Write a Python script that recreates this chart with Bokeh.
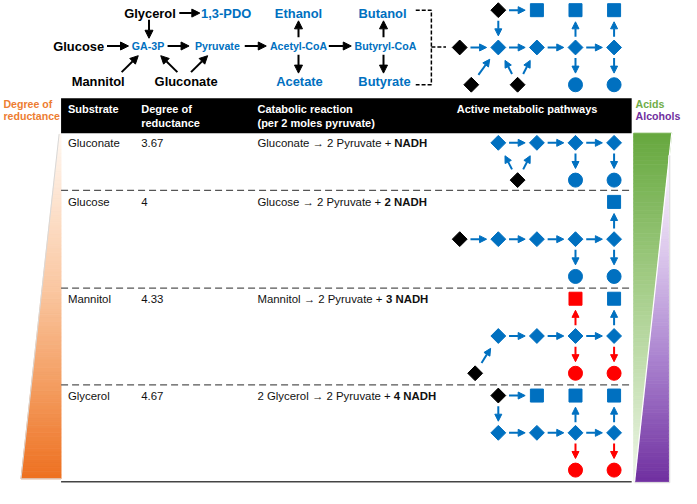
import numpy as np
from bokeh.plotting import figure
from bokeh.models import Range1d, ColumnDataSource, Arrow, NormalHead
from bokeh.core.properties import value
from bokeh.embed import file_html
from bokeh.resources import INLINE

# ------------------------------------------------------------------ data
substrates = ["Gluconate", "Glucose", "Mannitol", "Glycerol"]
reductance = ["3.67", "4", "4.33", "4.67"]
reaction_plain = ["Gluconate \u2192 2 Pyruvate + ", "Glucose \u2192 2 Pyruvate + ",
                  "Mannitol \u2192 2 Pyruvate + ", "2 Glycerol \u2192 2 Pyruvate + "]
reaction_nadh = ["NADH", "2 NADH", "3 NADH", "4 NADH"]
header_line1 = ["Substrate", "Degree of", "Catabolic reaction", "Active metabolic pathways"]
header_line2 = ["", "reductance", "(per 2 moles pyruvate)", ""]

overview_labels = ["Glycerol", "1,3-PDO", "Ethanol", "Butanol", "Glucose", "GA-3P", "Pyruvate",
                   "Acetyl-CoA", "Butyryl-CoA", "Mannitol", "Gluconate", "Acetate", "Butyrate"]
overview_kind = ["sub", "prod", "prod", "prod", "sub", "mid", "mid",
                 "mid", "mid", "sub", "sub", "prod", "prod"]

# pathway networks: nodes (col, row, shape, colour), edges (from, to, colour)
D, S, C = "diamond", "square", "circle"
k, b, r = "black", "blue", "red"
networks = [
    ("overview", [(1, 0, D, k), (2, 0, S, b), (3, 0, S, b), (4, 0, S, b), (0, 1, D, k), (1, 1, D, b),
                  (2, 1, D, b), (3, 1, D, b), (4, 1, D, b), (0.3, 2, D, k), (1.5, 2, D, k),
                  (3, 2, C, b), (4, 2, C, b)],
     [(0, 1, b), (0, 5, b), (4, 5, b), (5, 6, b), (6, 7, b), (7, 8, b), (9, 5, b), (10, 5, b),
      (10, 6, b), (7, 2, b), (8, 3, b), (7, 11, b), (8, 12, b)]),
    ("Gluconate", [(1, 0, D, b), (2, 0, D, b), (3, 0, D, b), (4, 0, D, b), (1.5, 1, D, k),
                   (3, 1, C, b), (4, 1, C, b)],
     [(0, 1, b), (1, 2, b), (2, 3, b), (4, 0, b), (4, 1, b), (2, 5, b), (3, 6, b)]),
    ("Glucose", [(4, 0, S, b), (0, 1, D, k), (1, 1, D, b), (2, 1, D, b), (3, 1, D, b), (4, 1, D, b),
                 (3, 2, C, b), (4, 2, C, b)],
     [(1, 2, b), (2, 3, b), (3, 4, b), (4, 5, b), (5, 0, b), (4, 6, b), (5, 7, b)]),
    ("Mannitol", [(3, 0, S, r), (4, 0, S, b), (1, 1, D, b), (2, 1, D, b), (3, 1, D, b), (4, 1, D, b),
                  (0.4, 2, D, k), (3, 2, C, r), (4, 2, C, r)],
     [(6, 2, b), (2, 3, b), (3, 4, b), (4, 5, b), (4, 0, r), (5, 1, b), (4, 7, r), (5, 8, r)]),
    ("Glycerol", [(1, 0, D, k), (2, 0, S, b), (3, 0, S, b), (4, 0, S, b), (1, 1, D, b), (2, 1, D, b),
                  (3, 1, D, b), (4, 1, D, b), (3, 2, C, r), (4, 2, C, r)],
     [(0, 1, b), (0, 4, b), (4, 5, b), (5, 6, b), (6, 7, b), (6, 2, b), (7, 3, b), (6, 8, r), (7, 9, r)]),
]

# ------------------------------------------------------------------ layout / style
W, H = 681, 488
K = W / 697.0
FONT = value("Liberation Sans")
BLUE, RED, BLACK = "#0070C0", "#FF0000", "#000000"
ORANGE, GREEN, PURPLE = "#ED7D31", "#70AD47", "#7030A0"
COL = {"black": BLACK, "blue": BLUE, "red": RED}

overview_xy = [(153, 13), (231, 13), (305, 13), (391, 13), (80, 47), (151, 47), (222, 47),
               (305, 47), (394, 47), (100, 84), (190, 84), (306, 84), (393, 84)]
overview_arrows = [(183, 13, 204, 13), (152, 20, 152, 39), (109, 47, 131, 47), (171, 47, 193, 47),
                   (250, 47, 272, 47), (336, 47, 359, 47), (305, 38, 305, 21), (305, 56, 305, 75),
                   (392, 38, 392, 21), (392, 56, 392, 75), (124, 74, 141, 57), (181, 74, 164, 57),
                   (195, 74, 212, 57)]
net_y0 = [10, 147, 208, 308, 408]
ROW_STEP = 38.5
col_x = lambda c: 470 + 39.5 * c
row_text_y = [147, 208, 308, 408]
sep_y = [196, 297, 397]
nadh_x = [403, 393, 394.5, 402.5]
header_x = [69, 144, 263, 467]
TL, TR = 62, 646


def px(s):
    return f"{s * K:.1f}px"


p = figure(width=W, height=H, x_range=Range1d(0, 697), y_range=Range1d(504, 0),
           x_axis_type=None, y_axis_type=None, output_backend="svg", toolbar_location=None,
           min_border=0)
p.grid.visible = False
p.outline_line_color = None
p.background_fill_color = "white"
p.border_fill_color = "white"


def txt(x, y, t, color, size, bold=False, align="left"):
    p.text(x=[x], y=[y], text=[t], text_color=color, text_font=FONT, text_font_size=px(size),
           text_font_style="bold" if bold else "normal", text_align=align, text_baseline="middle")


def hex2rgb(h):
    h = h.lstrip("#")
    return np.array([int(h[i:i + 2], 16) for i in (0, 2, 4)], float)


def interp(stops, t):
    for (t0, c0), (t1, c1) in zip(stops[:-1], stops[1:]):
        if t <= t1:
            f = (t - t0) / (t1 - t0) if t1 > t0 else 0
            c = hex2rgb(c0) * (1 - f) + hex2rgb(c1) * f
            return "#%02x%02x%02x" % tuple(int(round(v)) for v in c)
    return stops[-1][1]


def grad(ytop, ybot, left, right, stops, n=90):
    ys = np.linspace(ytop, ybot, n + 1)
    xs_l, ys_l, cols = [], [], []
    for i in range(n):
        a, bb = ys[i], ys[i + 1]
        t = ((a + bb) / 2 - ytop) / (ybot - ytop)
        xs_l.append([left(a), right(a), right(bb), left(bb)])
        ys_l.append([a, a, bb, bb])
        cols.append(interp(stops, t))
    p.patches(xs_l, ys_l, fill_color=cols, line_color=cols, line_width=0.8)


# ---- side gradient bars
o_top, o_bot = 138, 494
grad(o_top, o_bot, lambda y: 60 - 39 * (y - o_top) / (o_bot - o_top), lambda y: 62,
     [(0, "#FFF8F2"), (0.45, "#FAC7A1"), (0.75, "#F39A5C"), (1, "#EE7020")])
p.line([60, 21, 62], [o_top, o_bot, o_bot], line_color="#D8D8D8", line_width=1)

g_top, g_bot = 137, 497
g_right = lambda y: 687 - 38 * (y - g_top) / (g_bot - g_top)
grad(g_top, g_bot, lambda y: 648, g_right,
     [(0, "#66A83E"), (0.45, "#A6CE8A"), (1, "#EEF6E8")])
pu_top = 160
grad(pu_top, g_bot, lambda y: g_right(y) + 0.5, lambda y: 684,
     [(0, "#FBF7FD"), (0.3, "#DCC8EC"), (0.6, "#AE88D2"), (1, "#7030A0")])
p.line([687, 649], [g_top, g_bot], line_color="white", line_width=1.2)
p.line([685, 685, 649], [pu_top, g_bot + 1, g_bot + 1], line_color="#D8D8D8", line_width=1)

# ---- table
p.quad(left=[TL], right=[TR], top=[101], bottom=[137], fill_color="black", line_color=None)
for i in range(4):
    txt(header_x[i], 112, header_line1[i], "white", 11.3, bold=True)
    if header_line2[i]:
        txt(header_x[i], 127, header_line2[i], "white", 11.3, bold=True)
for y in sep_y:
    p.line([TL, TR], [y, y], line_color="#555555", line_width=1.3, line_dash="7 4")
p.line([TL, TR], [497, 497], line_color="#444444", line_width=1.5)
for i in range(4):
    y = row_text_y[i]
    txt(69, y, substrates[i], "#111111", 11.7)
    txt(144, y, reductance[i], "#111111", 11.7)
    txt(263, y, reaction_plain[i], "#111111", 11.7)
    txt(nadh_x[i], y, reaction_nadh[i], "#111111", 11.7, bold=True)

txt(3, 107, "Degree of", ORANGE, 10.8, bold=True)
txt(3, 119, "reductance", ORANGE, 10.8, bold=True)
txt(650, 107, "Acids", GREEN, 10.8, bold=True)
txt(650, 119, "Alcohols", PURPLE, 10.8, bold=True)

# ---- overview label diagram
for lab, kind, (x, y) in zip(overview_labels, overview_kind, overview_xy):
    if kind == "sub":
        txt(x, y, lab, BLACK, 13.2, bold=True, align="center")
    elif kind == "prod":
        txt(x, y, lab, BLUE, 13.2, bold=True, align="center")
    else:
        txt(x, y, lab, BLUE, 10.8, bold=True, align="center")
oa = np.array(overview_arrows, float)
p.add_layout(Arrow(x_start="x0", y_start="y0", x_end="x1", y_end="y1",
                   source=ColumnDataSource(dict(x0=oa[:, 0], y0=oa[:, 1], x1=oa[:, 2], y1=oa[:, 3])),
                   line_color=BLACK, line_width=2,
                   end=NormalHead(size=8, fill_color=BLACK, line_color=BLACK, line_width=1)))
p.line([425, 441, 441, 425], [10, 10, 87, 87], line_color=BLACK, line_width=1.5, line_dash="4 2")
p.line([441, 456], [48, 48], line_color=BLACK, line_width=1.5, line_dash="4 2")

# ---- pathway networks
marks = {D: dict(xs=[], ys=[], c=[]), S: dict(xs=[], ys=[], c=[]), C: dict(xs=[], ys=[], c=[])}
arr = {c: dict(x0=[], y0=[], x1=[], y1=[]) for c in COL}
for (name, nodes, edges), y0 in zip(networks, net_y0):
    pos = [(col_x(c), y0 + ROW_STEP * rr) for c, rr, _, _ in nodes]
    for (x, y), (_, _, shp, clr) in zip(pos, nodes):
        marks[shp]["xs"].append(x)
        marks[shp]["ys"].append(y)
        marks[shp]["c"].append(COL[clr])
    for a, bb, clr in edges:
        (xa, ya), (xb, yb) = pos[a], pos[bb]
        dx, dy = xb - xa, yb - ya
        L = np.hypot(dx, dy)
        diag = abs(dx) > 1 and abs(dy) > 1
        g0, g1 = (12.5, 15) if diag else (11, 12)
        arr[clr]["x0"].append(xa + dx / L * g0)
        arr[clr]["y0"].append(ya + dy / L * g0)
        arr[clr]["x1"].append(xb - dx / L * g1)
        arr[clr]["y1"].append(yb - dy / L * g1)

for clr, d in arr.items():
    if d["x0"]:
        c = COL[clr]
        p.add_layout(Arrow(x_start="x0", y_start="y0", x_end="x1", y_end="y1",
                           source=ColumnDataSource(d), line_color=c, line_width=2,
                           end=NormalHead(size=7, fill_color=c, line_color=c, line_width=1)))

p.scatter(marks[D]["xs"], marks[D]["ys"], marker="square", angle=np.pi / 4, size=10.5,
          fill_color=marks[D]["c"], line_color=marks[D]["c"])
p.scatter(marks[S]["xs"], marks[S]["ys"], marker="square", size=13,
          fill_color=marks[S]["c"], line_color=marks[S]["c"])
p.scatter(marks[C]["xs"], marks[C]["ys"], marker="circle", size=14,
          fill_color=marks[C]["c"], line_color=marks[C]["c"])

open("out.html", "w").write(file_html(p, INLINE))
